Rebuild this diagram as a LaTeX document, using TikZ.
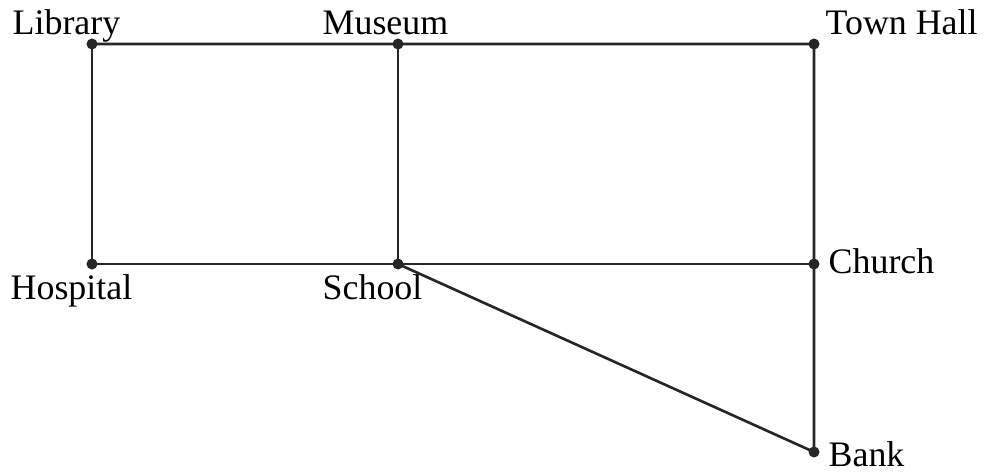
\documentclass[tikz,border=0pt]{standalone}
\usepackage{fontspec}
\setmainfont{Liberation Serif}
\begin{document}
\begin{tikzpicture}[x=0.01cm,y=-0.01cm,line join=round,line cap=round,
	place/.style={circle,fill=black!85,inner sep=0pt,minimum size=0.11cm},
	lbl/.style={inner sep=0pt,anchor=base west,font=\fontsize{10.2}{12}\selectfont},
	road/.style={line width=0.75pt,black!85}]
	\useasboundingbox (0,0) rectangle (987,473);
	% Điểm
	\node[place] (lib) at (92,44) {};
	\node[place] (mus) at (398,44) {};
	\node[place] (town) at (814,44) {};
	\node[place] (hos) at (92,264) {};
	\node[place] (sch) at (398,264) {};
	\node[place] (chu) at (814,264) {};
	\node[place] (bank) at (814,452) {};
	% Nhãn
	\node[lbl] (liblbl) at ([shift={(-80,-9)}]lib) {Library};
	\node[lbl] (muslbl) at ([shift={(-76,-9)}]mus) {Museum};
	\node[lbl] (townlbl) at ([shift={(11,-9)}]town) {Town Hall};
	\node[lbl] (hoslbl) at ([shift={(-82,36)}]hos) {Hospital};
	\node[lbl] (schlbl) at ([shift={(-76,36)}]sch) {School};
	\node[lbl] (chulbl) at ([shift={(14,10)}]chu) {Church};
	\node[lbl] (banklbl) at ([shift={(14,15)}]bank) {Bank};
	% Đường
	\draw[road] (lib.center)--(mus.center)--(town.center)--(chu.center)--(bank.center)--(sch.center);
	\draw[road] (lib.center)--(hos.center)--(sch.center)--(chu.center);
	\draw[road] (mus.center)--(sch.center);
\end{tikzpicture}
\end{document}
